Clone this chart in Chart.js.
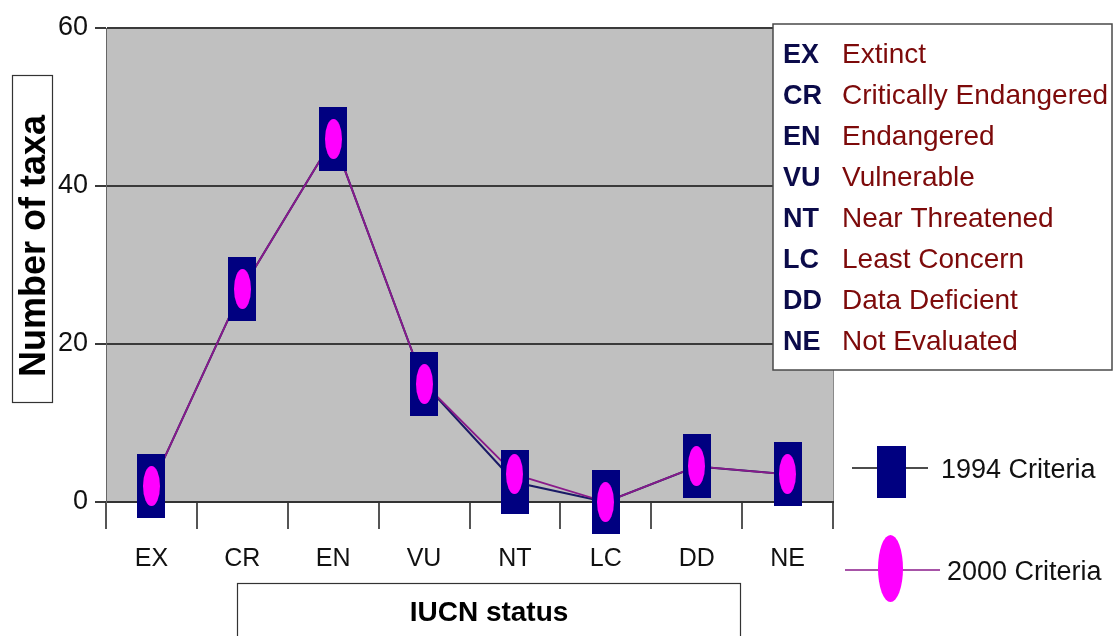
<!DOCTYPE html>
<html>
<head>
<meta charset="utf-8">
<script src="https://cdn.jsdelivr.net/npm/chart.js@4.4.1/dist/chart.umd.min.js"></script>
<style>
  html, body { margin: 0; padding: 0; background: #ffffff; }
  #wrap { width: 1119px; height: 636px; position: relative; }
</style>
</head>
<body>
<div id="wrap"><canvas id="chart" width="1119" height="636"></canvas></div>
<script>
// IUCN categories and their full names
const categories = ['EX', 'CR', 'EN', 'VU', 'NT', 'LC', 'DD', 'NE'];
const categoryNames = ['Extinct', 'Critically Endangered', 'Endangered', 'Vulnerable',
                       'Near Threatened', 'Least Concern', 'Data Deficient', 'Not Evaluated'];

// Number of taxa per category under each set of criteria
const criteria1994 = [2, 27, 46, 15, 2.5, 0, 4.5, 3.5];
const criteria2000 = [2, 27, 46, 15, 3.5, 0, 4.5, 3.5];
const seriesLabels = ['1994 Criteria', '2000 Criteria'];

// Value axis ticks and axis titles
const yTicks = [0, 20, 40, 60];
const xTitle = 'IUCN status';
const yTitle = 'Number of taxa';

const FONT = '"Liberation Sans", Arial, sans-serif';
Chart.defaults.font.family = FONT;

const NAVY = '#000080';
const MAGENTA = '#ff00ff';
const PURPLE = '#8a1a8a';

// Marker bitmaps: navy block for 1994, magenta oval for 2000
function rectMarker(w, h, color) {
  const c = document.createElement('canvas');
  c.width = w; c.height = h;
  const g = c.getContext('2d');
  g.fillStyle = color;
  g.fillRect(0, 0, w, h);
  return c;
}
function ovalMarker(w, h, color) {
  const c = document.createElement('canvas');
  c.width = w; c.height = h;
  const g = c.getContext('2d');
  g.fillStyle = color;
  g.beginPath();
  g.ellipse(w / 2, h / 2, w / 2, h / 2, 0, 0, Math.PI * 2);
  g.fill();
  return c;
}
const markerImages = [rectMarker(28, 64, NAVY), ovalMarker(17, 40, MAGENTA)];

// Grey plot background and right-hand frame edge
const plotBackground = {
  id: 'plotBackground',
  beforeDraw(chart) {
    const { ctx, chartArea: a } = chart;
    ctx.save();
    ctx.fillStyle = '#c0c0c0';
    ctx.fillRect(a.left, a.top, a.right - a.left, a.bottom - a.top);
    ctx.strokeStyle = '#8a8a8a';
    ctx.lineWidth = 1;
    ctx.beginPath();
    ctx.moveTo(a.right + 0.5, a.top);
    ctx.lineTo(a.right + 0.5, a.bottom);
    ctx.stroke();
    ctx.restore();
  }
};

// Markers are painted after both lines so the lines sit underneath them
const markers = {
  id: 'markers',
  afterDatasetsDraw(chart) {
    const ctx = chart.ctx;
    ctx.save();
    chart.data.datasets.forEach((ds, i) => {
      const img = markerImages[i];
      chart.getDatasetMeta(i).data.forEach(pt => {
        ctx.drawImage(img, Math.round(pt.x - img.width / 2), Math.round(pt.y - img.height / 2));
      });
    });
    ctx.restore();
  }
};

// Boxed axis titles, abbreviation key and series legend
const annotations = {
  id: 'annotations',
  afterDraw(chart) {
    const ctx = chart.ctx;
    ctx.save();

    // y-axis title in its box
    ctx.strokeStyle = '#333';
    ctx.lineWidth = 1.2;
    ctx.strokeRect(12.5, 75.5, 40, 327);
    ctx.save();
    ctx.translate(45, 246);
    ctx.rotate(-Math.PI / 2);
    ctx.fillStyle = '#000';
    ctx.font = 'bold 36px ' + FONT;
    ctx.textAlign = 'center';
    ctx.textBaseline = 'alphabetic';
    ctx.fillText(yTitle, 0, 0);
    ctx.restore();

    // x-axis title in its box
    ctx.strokeRect(237.5, 583.5, 503, 80);
    ctx.fillStyle = '#000';
    ctx.font = 'bold 28px ' + FONT;
    ctx.textAlign = 'center';
    ctx.textBaseline = 'alphabetic';
    ctx.fillText(xTitle, 489, 621);

    // abbreviation key
    ctx.fillStyle = '#ffffff';
    ctx.fillRect(773, 24, 339, 346);
    ctx.strokeStyle = '#4a4a4a';
    ctx.lineWidth = 1.5;
    ctx.strokeRect(773, 24, 339, 346);
    ctx.textAlign = 'left';
    categories.forEach((code, i) => {
      const y = 63 + i * 41;
      ctx.fillStyle = '#0b0b4a';
      ctx.font = 'bold 27px ' + FONT;
      ctx.fillText(code, 783, y);
      ctx.fillStyle = '#7d0a0a';
      ctx.font = '28px ' + FONT;
      ctx.fillText(categoryNames[i], 842, y);
    });

    // series legend
    ctx.lineWidth = 1.5;
    ctx.strokeStyle = '#111';
    ctx.beginPath(); ctx.moveTo(852, 468); ctx.lineTo(928, 468); ctx.stroke();
    ctx.fillStyle = NAVY;
    ctx.fillRect(877, 446, 29, 52);
    ctx.strokeStyle = PURPLE;
    ctx.beginPath(); ctx.moveTo(845, 570); ctx.lineTo(940, 570); ctx.stroke();
    ctx.fillStyle = MAGENTA;
    ctx.beginPath(); ctx.ellipse(890.5, 568.5, 12.5, 33.5, 0, 0, Math.PI * 2); ctx.fill();
    ctx.fillStyle = '#111';
    ctx.font = '27px ' + FONT;
    ctx.fillText(seriesLabels[0], 941, 478);
    ctx.fillText(seriesLabels[1], 947, 580);

    ctx.restore();
  }
};

new Chart(document.getElementById('chart'), {
  type: 'line',
  data: {
    labels: categories,
    datasets: [
      { label: seriesLabels[0], data: criteria1994, borderColor: '#1a1a66', borderWidth: 2,
        pointRadius: 0, tension: 0, order: 2 },
      { label: seriesLabels[1], data: criteria2000, borderColor: PURPLE, borderWidth: 1.8,
        pointRadius: 0, tension: 0, order: 1 }
    ]
  },
  options: {
    responsive: false,
    animation: false,
    devicePixelRatio: 1,
    layout: { padding: { left: 0, top: 28, right: 286, bottom: 0 } },
    plugins: { legend: { display: false }, tooltip: { enabled: false } },
    scales: {
      x: {
        offset: true,
        grid: { offset: true, drawOnChartArea: false, drawTicks: true, tickLength: 27,
                color: '#555', lineWidth: 2 },
        border: { color: '#333', width: 2 },
        ticks: { color: '#111', font: { size: 25 }, padding: 15, maxRotation: 0, autoSkip: false },
        afterFit(s) { s.height = 134; }
      },
      y: {
        min: 0, max: 60,
        afterBuildTicks(s) { s.ticks = yTicks.map(v => ({ value: v })); },
        grid: { color: '#3a3a3a', lineWidth: 2, drawTicks: true, tickLength: 11 },
        border: { color: '#666', width: 1 },
        ticks: { color: '#111', font: { size: 27 }, padding: 7 },
        afterFit(s) { s.width = 106; }
      }
    }
  },
  plugins: [plotBackground, markers, annotations]
});
</script>
</body>
</html>
